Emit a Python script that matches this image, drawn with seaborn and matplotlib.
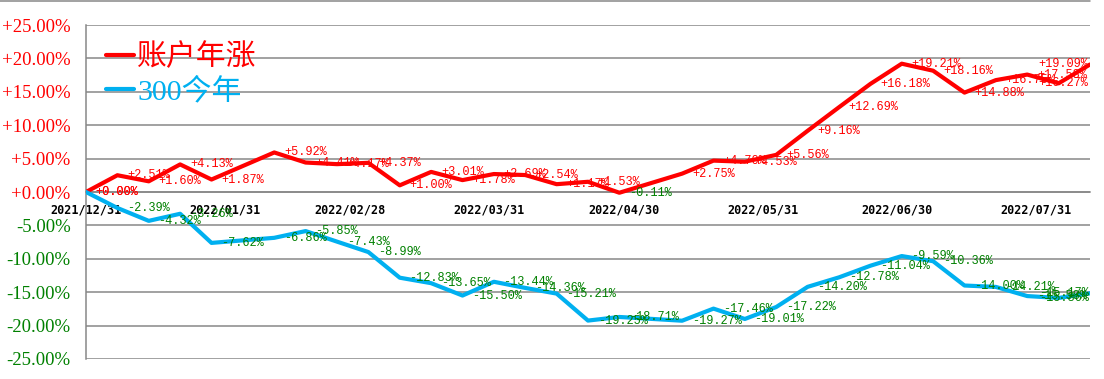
import pandas as pd
import matplotlib
matplotlib.use("Agg")
import matplotlib.pyplot as plt
import matplotlib.dates as mdates
from matplotlib.ticker import FixedLocator
from matplotlib.lines import Line2D
import seaborn as sns

# weekly dates (Fridays, holiday weeks missing)
dates = ["2021-12-31", "2022-01-07", "2022-01-14", "2022-01-21", "2022-01-28",
         "2022-02-11", "2022-02-18", "2022-02-25", "2022-03-04", "2022-03-11",
         "2022-03-18", "2022-03-25", "2022-04-01", "2022-04-08", "2022-04-15",
         "2022-04-22", "2022-04-29", "2022-05-13", "2022-05-20", "2022-05-27",
         "2022-06-03", "2022-06-10", "2022-06-17", "2022-06-24", "2022-07-01",
         "2022-07-08", "2022-07-15", "2022-07-22", "2022-07-29", "2022-08-05",
         "2022-08-12"]

account = [0.00, 2.51, 1.60, 4.13, 1.87, 5.92, 4.41, 4.17, 4.37, 1.00,
           3.01, 1.78, 2.69, 2.54, 1.17, 1.53, -0.11, 2.75, 4.70, 4.53,
           5.56, 9.16, 12.69, 16.18, 19.21, 18.16, 14.88, 16.75, 17.58, 16.27,
           19.09]

hs300 = [0.00, -2.39, -4.32, -3.26, -7.62, -6.86, -5.85, -7.43, -8.99, -12.83,
         -13.65, -15.50, -13.44, -14.36, -15.21, -19.25, -18.71, -19.27, -17.46, -19.01,
         -17.22, -14.20, -12.78, -11.04, -9.59, -10.36, -14.00, -14.21, -15.58, -15.86,
         -15.17]

series_names = ["账户年涨", "300今年"]
series_colors = ["#FF0000", "#00B0F0"]
month_ticks = ["2021-12-31", "2022-01-31", "2022-02-28", "2022-03-31",
               "2022-04-30", "2022-05-31", "2022-06-30", "2022-07-31"]
y_ticks = [25, 20, 15, 10, 5, 0, -5, -10, -15, -20, -25]

sns.set_style("white")
plt.rcParams["font.family"] = ["Liberation Mono", "Noto Sans CJK SC", "DejaVu Sans"]

df = pd.DataFrame({
    "date": pd.to_datetime(dates * 2),
    "value": account + hs300,
    "series": [series_names[0]] * len(dates) + [series_names[1]] * len(dates),
})

fig = plt.figure(figsize=(11.04, 3.79), dpi=100)
ax = fig.add_axes([0.0779, 0.0528, 0.9094, 0.8812])

sns.lineplot(data=df, x="date", y="value", hue="series", hue_order=series_names,
             palette=series_colors, linewidth=3, ax=ax, legend=False, zorder=3)

grid_c = "#878787"
ax.set_ylim(-25, 25)
ax.set_xlim(pd.Timestamp(dates[0]), pd.Timestamp(dates[-1]))
ax.set_yticks(y_ticks)
ax.yaxis.grid(True, color=grid_c, linewidth=1.1)
ax.xaxis.grid(False)
ax.set_xlabel("")
ax.set_ylabel("")

for s in ["top", "right"]:
    ax.spines[s].set_visible(False)
ax.spines["left"].set_color(grid_c)
ax.spines["left"].set_linewidth(1.1)
ax.spines["bottom"].set_position(("data", 0))
ax.spines["bottom"].set_color(grid_c)
ax.spines["bottom"].set_linewidth(1.1)

# month-end ticks on the zero line
ax.xaxis.set_major_locator(FixedLocator(mdates.date2num(pd.to_datetime(month_ticks))))
ax.xaxis.set_major_formatter(mdates.DateFormatter("%Y/%m/%d"))
ax.tick_params(axis="x", direction="out", length=4, color=grid_c, pad=4,
               labelsize=8.5, labelcolor="black")
for lab in ax.get_xticklabels():
    lab.set_fontweight("bold")
    lab.set_family(["DejaVu Sans Mono"])

ax.tick_params(axis="y", length=0, pad=11)
ax.set_yticklabels([f"{v:+.2f}%" for v in y_ticks])
for v, lab in zip(y_ticks, ax.get_yticklabels()):
    lab.set_color("#FF0000" if v >= 0 else "#008000")
    lab.set_family(["Liberation Serif"])
    lab.set_fontsize(13.5)

# data labels, pushed inside the plot at the right end
end = pd.Timestamp(dates[-1])
for vals in [account, hs300]:
    for d, v in zip(dates, vals):
        dt = pd.Timestamp(d)
        col = "#FF0000" if v >= 0 else "#008000"
        txt = f"{v:+.2f}%"
        if (end - dt).days < 10:
            ax.annotate(txt, xy=(1.0, v), xycoords=("axes fraction", "data"),
                        xytext=(-1, 0), textcoords="offset points",
                        ha="right", va="center", fontsize=8.6, color=col, zorder=5)
        else:
            ax.annotate(txt, xy=(mdates.date2num(dt), v), xytext=(7, 0),
                        textcoords="offset points", ha="left", va="center",
                        fontsize=8.6, color=col, zorder=5)

handles = [Line2D([], [], color=c, linewidth=3) for c in series_colors]
ax.legend(handles, series_names, loc="upper left", bbox_to_anchor=(0.02, 0.945),
          frameon=False, handlelength=0.95, handletextpad=0.1,
          labelspacing=0.22, borderpad=0, borderaxespad=0, labelcolor=series_colors,
          prop={"family": ["Liberation Serif", "Noto Sans CJK SC"], "size": 21.5})

fig.add_artist(Line2D([0, 0.987], [0.998, 0.998], transform=fig.transFigure,
                      color=grid_c, linewidth=1.1))

fig.savefig("out.png", dpi=100)
